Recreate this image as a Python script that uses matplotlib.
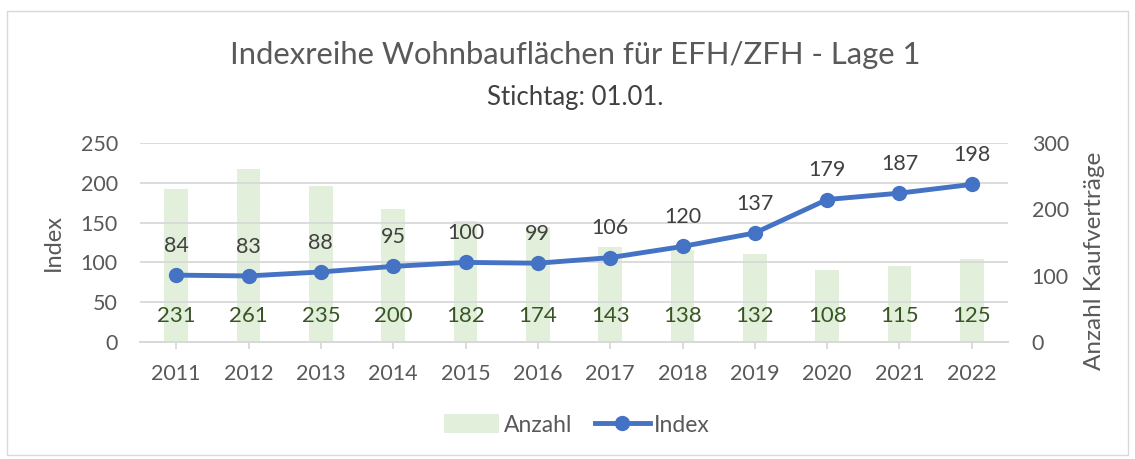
import matplotlib
matplotlib.use("Agg")
import matplotlib.pyplot as plt
from matplotlib.lines import Line2D
from matplotlib.patches import Patch, Rectangle
import numpy as np

plt.rcParams['font.family'] = ['Lato', 'DejaVu Sans']

years = ['2011', '2012', '2013', '2014', '2015', '2016', '2017', '2018', '2019', '2020', '2021', '2022']
anzahl = [231, 261, 235, 200, 182, 174, 143, 138, 132, 108, 115, 125]
index = [84, 83, 88, 95, 100, 99, 106, 120, 137, 179, 187, 198]

grey = '#595959'
bar_col = '#E2EFDA'
line_col = '#4472C4'
lab_green = '#375623'

fig = plt.figure(figsize=(11.35, 4.59), dpi=100)
fig.patches.append(Rectangle((7 / 1135, 1 - 455 / 459), 1121 / 1135, 444 / 459,
                             transform=fig.transFigure, fill=False,
                             edgecolor='#D9D9D9', lw=1))

ax = fig.add_axes([140 / 1135, 1 - 342 / 459, 868 / 1135, 199 / 459])
ax2 = ax.twinx()
x = np.arange(len(years))

# bars on secondary axis, drawn behind the index line
ax2.set_zorder(0)
ax.set_zorder(1)
ax.patch.set_visible(False)

ax2.bar(x, anzahl, width=0.33, color=bar_col, zorder=1)
for xi, v in zip(x, anzahl):
    ax2.annotate(str(v), (xi, 0), xytext=(0, 19), textcoords='offset points',
                 ha='center', va='center', fontsize=16, color=lab_green)

ax.plot(x, index, color=line_col, lw=3.5, marker='o', ms=10, zorder=3)
for xi, v in zip(x, index):
    ax.annotate(str(v), (xi, v), xytext=(0, 21), textcoords='offset points',
                ha='center', va='center', fontsize=15.5, color='#404040')

ax.set_xlim(-0.5, len(years) - 0.5)
ax.set_ylim(0, 250)
ax.set_yticks(range(0, 251, 50))
ax2.set_ylim(0, 300)
ax2.set_yticks([0, 100, 200, 300])

ax.set_xticks(x)
ax.set_xticklabels(years)
ax2.grid(False)
ax.grid(axis='y', color='#D9D9D9', lw=1.3)
ax.set_axisbelow(True)

for a in (ax, ax2):
    for s in ('top', 'left', 'right'):
        a.spines[s].set_visible(False)
    a.spines['bottom'].set_color('#D9D9D9')
    a.spines['bottom'].set_linewidth(1.3)

ax.tick_params(axis='y', length=0, labelsize=15.5, labelcolor=grey, pad=16)
ax2.tick_params(axis='y', length=0, labelsize=15.5, labelcolor=grey, pad=17)
ax.tick_params(axis='x', length=5, color='#D9D9D9', width=1.3, labelsize=15.5,
               labelcolor=grey, pad=11)

ax.set_ylabel('Index', fontsize=17, color=grey, labelpad=12)
ax2.set_ylabel('Anzahl Kaufverträge', fontsize=17.5, color=grey, va='center')
ax2.yaxis.set_label_coords(1.1, 0.41)

fig.text(575 / 1135, 1 - 55 / 459, 'Indexreihe Wohnbauflächen für EFH/ZFH - Lage 1',
         ha='center', va='center', fontsize=22.3, color=grey)
fig.text(575 / 1135, 1 - 97 / 459, 'Stichtag: 01.01.',
         ha='center', va='center', fontsize=18.5, color='#404040')

handles = [Patch(facecolor=bar_col, edgecolor='none', label='Anzahl'),
           Line2D([0], [0], color=line_col, lw=3.5, marker='o', ms=10, label='Index')]
fig.legend(handles=handles, loc='center', bbox_to_anchor=(577 / 1135, 1 - 425 / 459),
           ncol=2, frameon=False, fontsize=16.5, labelcolor=grey,
           handlelength=2.4, handleheight=0.9, handletextpad=0.2, columnspacing=1.0)

fig.savefig('out.png', dpi=100)
